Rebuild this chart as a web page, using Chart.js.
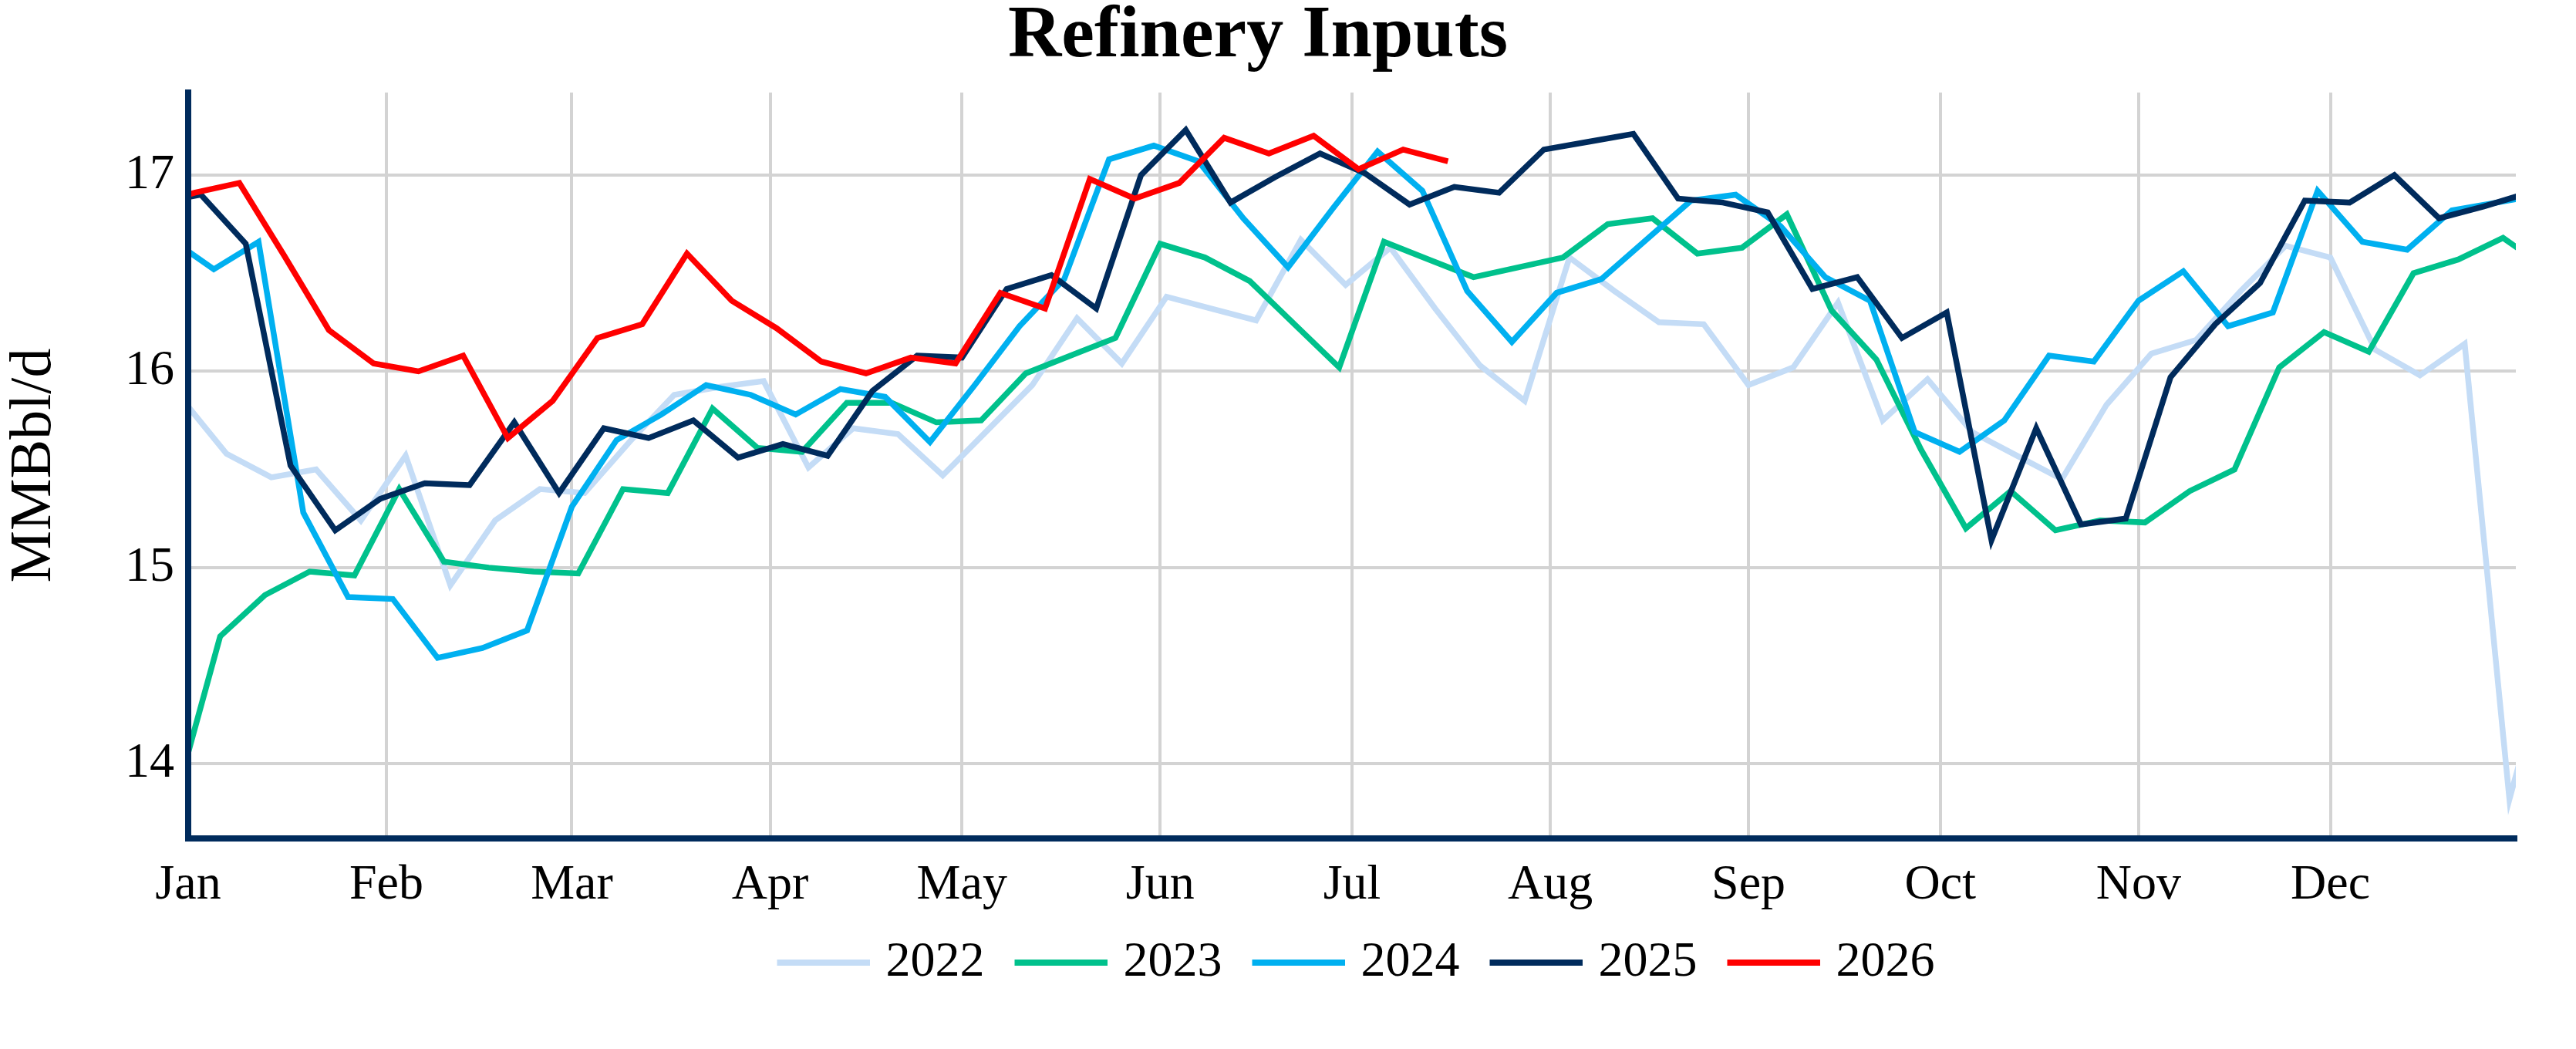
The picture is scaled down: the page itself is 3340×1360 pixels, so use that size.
<!DOCTYPE html>
<html>
<head>
<meta charset="utf-8">
<script src="https://cdn.jsdelivr.net/npm/chart.js@4.4.1/dist/chart.umd.min.js"></script>
<style>
  html, body { margin: 0; padding: 0; background: #ffffff; }
  #wrap { width: 3340px; height: 1360px; position: relative; }
</style>
</head>
<body>
<div id="wrap"><canvas id="c"></canvas></div>
<script>
// ---------------- data ----------------
const years = ['2022', '2023', '2024', '2025', '2026'];
// week-ending date (Friday) of the first weekly value of each year
const firstWeekEnding = ['2022-01-07', '2023-01-06', '2024-01-05', '2025-01-03', '2026-01-02'];

const inputs2022 = [15.58, 15.46, 15.50, 15.24, 15.57, 14.91, 15.24, 15.40, 15.38, 15.64,
                    15.88, 15.92, 15.95, 15.51, 15.71, 15.68, 15.47, 15.70, 15.93, 16.27,
                    16.04, 16.38, 16.32, 16.26, 16.67, 16.44, 16.63, 16.32, 16.03, 15.85,
                    16.58, 16.41, 16.25, 16.24, 15.93, 16.02, 16.35, 15.75, 15.96, 15.69,
                    15.57, 15.45, 15.83, 16.09, 16.16, 16.41, 16.64, 16.58, 16.11, 15.98,
                    16.14, 13.82];
const inputs2023 = [14.65, 14.86, 14.98, 14.96, 15.40, 15.03, 15.00, 14.98, 14.97, 15.40,
                    15.38, 15.81, 15.61, 15.59, 15.84, 15.84, 15.74, 15.75, 15.99, 16.08,
                    16.17, 16.65, 16.58, 16.46, 16.24, 16.02, 16.66, 16.57, 16.48, 16.53,
                    16.58, 16.75, 16.78, 16.60, 16.63, 16.80, 16.31, 16.06, 15.60, 15.20,
                    15.39, 15.19, 15.24, 15.23, 15.39, 15.50, 16.02, 16.20, 16.10, 16.50,
                    16.57, 16.68];
const inputs2024 = [16.52, 16.66, 15.28, 14.85, 14.84, 14.54, 14.59, 14.68, 15.31, 15.65,
                    15.78, 15.93, 15.88, 15.78, 15.91, 15.87, 15.64, 15.93, 16.23, 16.47,
                    17.08, 17.15, 17.07, 16.78, 16.53, 16.83, 17.12, 16.92, 16.41, 16.15,
                    16.40, 16.47, 16.67, 16.87, 16.90, 16.74, 16.48, 16.36, 15.69, 15.59,
                    15.75, 16.08, 16.05, 16.36, 16.51, 16.23, 16.30, 16.92, 16.66, 16.62,
                    16.82, 16.86];
const inputs2025 = [16.90, 16.65, 15.52, 15.19, 15.35, 15.43, 15.42, 15.74, 15.38, 15.71,
                    15.66, 15.75, 15.56, 15.63, 15.57, 15.90, 16.08, 16.07, 16.42, 16.49,
                    16.32, 17.00, 17.23, 16.86, 16.99, 17.11, 17.01, 16.85, 16.94, 16.91,
                    17.13, 17.17, 17.21, 16.88, 16.86, 16.81, 16.42, 16.48, 16.17, 16.30,
                    15.14, 15.71, 15.22, 15.25, 15.97, 16.24, 16.45, 16.87, 16.86, 17.00,
                    16.78, 16.84];
const inputs2026 = [16.91, 16.96, 16.59, 16.21, 16.04, 16.00, 16.08, 15.66, 15.85, 16.17,
                    16.24, 16.60, 16.36, 16.22, 16.05, 15.99, 16.07, 16.04, 16.40, 16.32,
                    16.98, 16.88, 16.96, 17.19, 17.11, 17.20, 17.03, 17.13, 17.07];
// last weekly value of 2021 (line enters the chart from the left edge)
const lastWeek2021 = 15.86;

const monthStarts = [0, 31, 60, 91, 121, 152, 182, 213, 244, 274, 305, 335];
const monthLabels = ['Jan', 'Feb', 'Mar', 'Apr', 'May', 'Jun', 'Jul', 'Aug', 'Sep', 'Oct', 'Nov', 'Dec'];
const yTickValues = [14, 15, 16, 17];
const yMin = 13.62, yMax = 17.42;
const xMax = 364;
const seriesColors = ['#c4dcf6', '#00c18c', '#00b0f0', '#002b5c', '#ff0000'];

// ---------------- build ----------------
const series = [inputs2022, inputs2023, inputs2024, inputs2025, inputs2026];

function dayOfYear(iso) {
  const d = new Date(iso + 'T00:00:00Z');
  return (d.getTime() - Date.UTC(d.getUTCFullYear(), 0, 1)) / 864e5;
}
function buildPoints(k) {
  const vals = series[k];
  const d0 = dayOfYear(firstWeekEnding[k]);
  const pts = vals.map((v, i) => ({ x: d0 + 7 * i, y: v }));
  const prevSeries = series[k - 1];
  const prev = k === 0 ? lastWeek2021 : prevSeries[prevSeries.length - 1];
  pts.unshift({ x: d0 - 7, y: prev });
  if (k + 1 < series.length) pts.push({ x: d0 + 7 * vals.length, y: series[k + 1][0] });
  return pts;
}
// legend swatch: a 120px bar, right-aligned inside a 141px transparent strip
function swatch(color) {
  const c = document.createElement('canvas');
  c.width = 141; c.height = 8;
  const g = c.getContext('2d');
  g.fillStyle = color;
  g.fillRect(21, 0, 120, 8);
  return c;
}

Chart.defaults.font.family = "'Liberation Serif', 'Times New Roman', serif";
Chart.defaults.color = '#000000';

new Chart(document.getElementById('c'), {
  type: 'line',
  data: {
    datasets: years.map((y, k) => ({
      label: y,
      data: buildPoints(k),
      borderColor: seriesColors[k],
      backgroundColor: seriesColors[k],
      borderWidth: 7.5,
      pointRadius: 0,
      pointHoverRadius: 0,
      pointHitRadius: 0,
      tension: 0,
      order: years.length - k,
      clip: 0,
      pointStyle: swatch(seriesColors[k])
    }))
  },
  options: {
    responsive: true,
    maintainAspectRatio: false,
    animation: false,
    devicePixelRatio: 1,
    events: [],
    layout: { padding: { left: 0, right: 78, top: 0, bottom: 70 } },
    plugins: {
      title: {
        display: true,
        text: 'Refinery Inputs',
        color: '#000000',
        font: { size: 96, weight: 'bold', lineHeight: 0.72 },
        padding: { top: 14, bottom: 37 }
      },
      legend: {
        position: 'bottom',
        fullSize: false,
        labels: {
          usePointStyle: true,
          pointStyleWidth: 119,
          padding: 29,
          color: '#000000',
          font: { size: 64 },
          sort: (a, b) => a.datasetIndex - b.datasetIndex
        }
      },
      tooltip: { enabled: false }
    },
    scales: {
      x: {
        type: 'linear',
        min: 0,
        max: xMax,
        afterBuildTicks: (axis) => { axis.ticks = monthStarts.map(v => ({ value: v })); },
        afterFit: (axis) => { axis.height = 100; },
        ticks: {
          callback: (v) => monthLabels[monthStarts.indexOf(v)],
          autoSkip: false,
          maxRotation: 0,
          padding: 45,
          color: '#000000',
          font: { size: 64, lineHeight: 0.5 }
        },
        grid: { color: '#d3d3d3', lineWidth: 4, drawTicks: false },
        border: { display: true, color: '#002b5c', width: 8, z: 1 }
      },
      y: {
        min: yMin,
        max: yMax,
        afterBuildTicks: (axis) => { axis.ticks = yTickValues.map(v => ({ value: v })); },
        ticks: { padding: 18, color: '#000000', font: { size: 64 } },
        grid: { color: '#d3d3d3', lineWidth: 4, drawTicks: false },
        border: { display: true, color: '#002b5c', width: 8, z: 1 },
        title: {
          display: true,
          text: 'MMBbl/d',
          color: '#000000',
          font: { size: 76, lineHeight: 1.0 },
          padding: { top: 7, bottom: 61 }
        }
      }
    }
  }
});
</script>
</body>
</html>
